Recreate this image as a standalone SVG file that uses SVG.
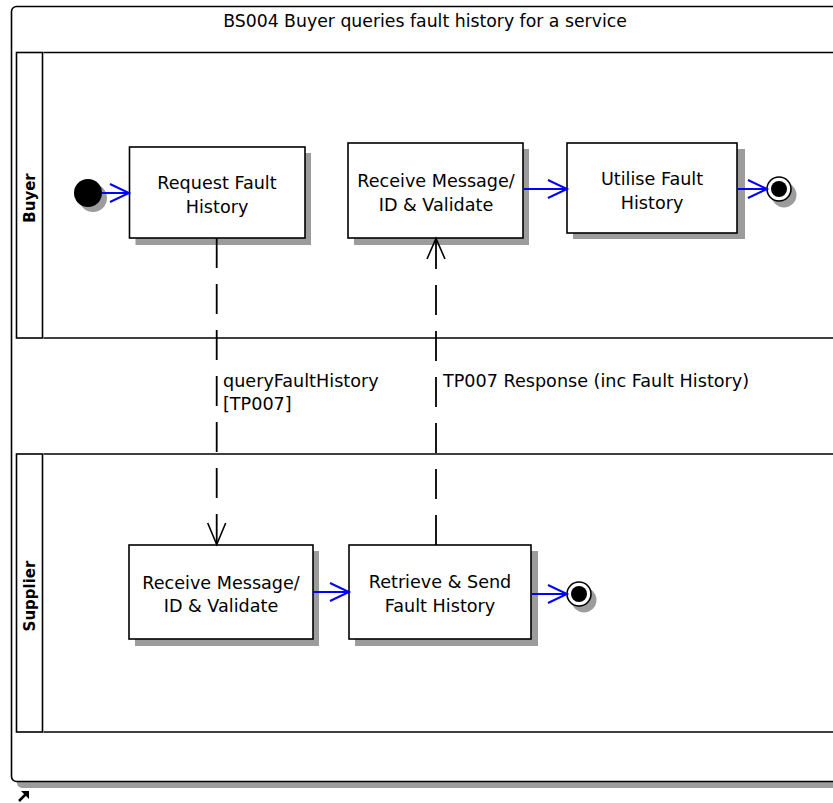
<svg xmlns="http://www.w3.org/2000/svg" width="833" height="803" viewBox="0 0 833 803">
<style>
  .txt { font-family: "DejaVu Sans", "Liberation Sans", sans-serif; font-size: 17.6px; fill: #000; }
  .title { font-family: "DejaVu Sans", "Liberation Sans", sans-serif; font-size: 17.3px; fill: #000; }
  .lane-title { font-family: "DejaVu Sans", "Liberation Sans", sans-serif; font-size: 15px; font-weight: bold; fill: #000; }
  .box { fill: #fff; stroke: #000; stroke-width: 1.6; }
  .shadow { fill: #9c9c9c; stroke: none; }
  .lane { fill: none; stroke: #000; stroke-width: 1.6; }
  .flow { fill: none; stroke: #0000ff; stroke-width: 2; }
  .msg { fill: none; stroke: #000; stroke-width: 1.8; stroke-dasharray: 30 16; }
  .head { fill: none; stroke: #000; stroke-width: 1.6; }
</style>

<!-- Frame -->
<g id="frame">
  <rect x="17" y="12" width="900" height="776" rx="5" class="shadow"/>
  <rect x="11.5" y="6.5" width="900" height="775" rx="5" fill="#fff" stroke="#000" stroke-width="1.6"/>
  <text x="425" y="27" class="title" text-anchor="middle">BS004 Buyer queries fault history for a service</text>
</g>

<!-- Lanes -->
<g id="lane-buyer">
  <rect x="16.5" y="52.5" width="26" height="285.5" class="lane"/>
  <line x1="43.5" y1="52.5" x2="840" y2="52.5" class="lane"/>
  <line x1="43.5" y1="338" x2="840" y2="338" class="lane"/>
  <text class="lane-title" text-anchor="middle" transform="translate(35,198) rotate(-90)">Buyer</text>
</g>
<g id="lane-supplier">
  <rect x="16.5" y="454" width="26" height="278" class="lane"/>
  <line x1="43.5" y1="454" x2="840" y2="454" class="lane"/>
  <line x1="43.5" y1="732" x2="840" y2="732" class="lane"/>
  <text class="lane-title" text-anchor="middle" transform="translate(35,596) rotate(-90)">Supplier</text>
</g>

<!-- Nodes -->
<g id="start">
  <circle cx="93" cy="198" r="14" class="shadow"/>
  <circle cx="88" cy="193" r="14" fill="#000"/>
</g>

<g id="request-fault-history">
  <rect x="135.5" y="153" width="175.5" height="92" class="shadow"/>
  <rect x="129.5" y="147" width="175.5" height="91" class="box"/>
  <text x="217" y="189" class="txt" text-anchor="middle">Request Fault</text>
  <text x="217" y="213" class="txt" text-anchor="middle">History</text>
</g>

<g id="buyer-receive">
  <rect x="354" y="149" width="175" height="96" class="shadow"/>
  <rect x="348" y="143" width="175" height="95" class="box"/>
  <text x="436" y="187" class="txt" text-anchor="middle">Receive Message/</text>
  <text x="436" y="211" class="txt" text-anchor="middle">ID &amp; Validate</text>
</g>

<g id="utilise-fault-history">
  <rect x="573" y="149" width="172" height="90" class="shadow"/>
  <rect x="567" y="143" width="170" height="90" class="box"/>
  <text x="652" y="185" class="txt" text-anchor="middle">Utilise Fault</text>
  <text x="652" y="209" class="txt" text-anchor="middle">History</text>
</g>

<g id="buyer-end">
  <circle cx="784" cy="195" r="12.5" class="shadow"/>
  <circle cx="779" cy="189" r="12" fill="#fff" stroke="#000" stroke-width="1.6"/>
  <circle cx="779" cy="189" r="8" fill="#000"/>
</g>

<g id="supplier-receive">
  <rect x="135" y="551" width="184" height="95" class="shadow"/>
  <rect x="129" y="545" width="184" height="94" class="box"/>
  <text x="221" y="589" class="txt" text-anchor="middle">Receive Message/</text>
  <text x="221" y="612" class="txt" text-anchor="middle">ID &amp; Validate</text>
</g>

<g id="retrieve-send">
  <rect x="355" y="551" width="183" height="95" class="shadow"/>
  <rect x="349" y="545" width="182" height="94" class="box"/>
  <text x="440" y="588" class="txt" text-anchor="middle">Retrieve &amp; Send</text>
  <text x="440" y="612" class="txt" text-anchor="middle">Fault History</text>
</g>

<g id="supplier-end">
  <circle cx="584" cy="600" r="12.5" class="shadow"/>
  <circle cx="579" cy="594" r="12" fill="#fff" stroke="#000" stroke-width="1.6"/>
  <circle cx="579" cy="594" r="8" fill="#000"/>
</g>

<!-- Connectors -->
<g id="connectors">
  <!-- control flows -->
  <line x1="102" y1="193" x2="129" y2="193" class="flow"/>
  <polyline points="110,184 129,193 110,202" class="flow"/>

  <line x1="523" y1="189" x2="567" y2="189" class="flow"/>
  <polyline points="548,180 567,189 548,198" class="flow"/>

  <line x1="737" y1="189" x2="767" y2="189" class="flow"/>
  <polyline points="748,180 767,189 748,198" class="flow"/>

  <line x1="313" y1="592" x2="349" y2="592" class="flow"/>
  <polyline points="330,583 349,592 330,601" class="flow"/>

  <line x1="531" y1="594" x2="567" y2="594" class="flow"/>
  <polyline points="548,585 567,594 548,603" class="flow"/>

  <!-- message flows -->
  <line x1="216.7" y1="238" x2="216.7" y2="544" class="msg"/>
  <polyline points="207.7,523 216.7,544.5 225.7,523" class="head"/>

  <line x1="436" y1="545" x2="436" y2="239" class="msg"/>
  <polyline points="427,259 436,238.5 445,259" class="head"/>

  <text x="223" y="387" class="txt">queryFaultHistory</text>
  <text x="223" y="410" class="txt">[TP007]</text>
  <text x="443" y="387" class="txt">TP007 Response (inc Fault History)</text>
</g>

<!-- small corner icon -->
<g id="corner-icon">
  <line x1="19" y1="801" x2="26" y2="794" stroke="#000" stroke-width="2.5"/>
  <polygon points="21,791 29,791 29,799" fill="#000"/>
</g>
</svg>
